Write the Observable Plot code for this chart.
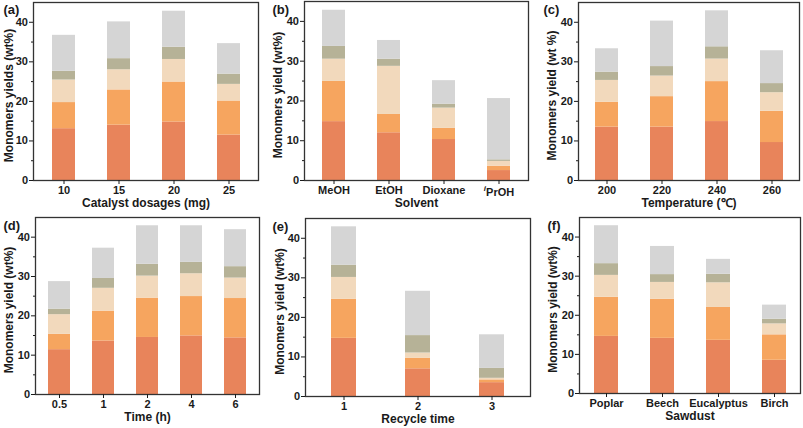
<!DOCTYPE html>
<html>
<head>
<meta charset="utf-8">
<script src="https://cdn.jsdelivr.net/npm/d3@7"></script>
<script src="https://cdn.jsdelivr.net/npm/@observablehq/plot@0.6"></script>
<style>
  html, body { margin: 0; padding: 0; background: #fff; }
  #wrap { position: relative; width: 803px; height: 428px; overflow: hidden; }
  .panel { position: absolute; }
</style>
</head>
<body>
<div id="wrap"></div>
<script>
// Component series (bottom to top of each stack)
const seriesNames = ["Component 1", "Component 2", "Component 3", "Component 4", "Component 5"];
const seriesColors = ["#E8845B", "#F6A55F", "#F2D9BC", "#B6B297", "#D5D5D5"];

// (a) Catalyst dosages
const catA = ["10", "15", "20", "25"];
const aS1 = [13.1, 14.0, 14.8, 11.5];
const aS2 = [6.6, 8.9, 10.1, 8.6];
const aS3 = [5.7, 5.1, 5.7, 4.2];
const aS4 = [2.2, 2.8, 3.1, 2.6];
const aS5 = [9.1, 9.3, 9.1, 7.7];

// (b) Solvent
const catB = ["MeOH", "EtOH", "Dioxane", "iPrOH"];
const bS1 = [14.8, 12.0, 10.3, 2.5];
const bS2 = [10.1, 4.6, 2.8, 1.1];
const bS3 = [5.6, 12.1, 5.1, 1.2];
const bS4 = [3.2, 1.8, 1.0, 0.4];
const bS5 = [9.1, 4.7, 5.9, 15.4];

// (c) Temperature
const catC = ["200", "220", "240", "260"];
const cS1 = [13.5, 13.5, 14.9, 9.6];
const cS2 = [6.3, 7.7, 10.1, 7.9];
const cS3 = [5.5, 5.2, 5.7, 4.7];
const cS4 = [2.1, 2.4, 3.1, 2.3];
const cS5 = [5.9, 11.5, 9.1, 8.3];

// (d) Time
const catD = ["0.5", "1", "2", "4", "6"];
const dS1 = [11.4, 13.6, 14.5, 14.9, 14.4];
const dS2 = [3.9, 7.6, 10.0, 10.0, 10.0];
const dS3 = [5.0, 5.8, 5.6, 5.8, 5.2];
const dS4 = [1.4, 2.5, 3.0, 2.9, 2.9];
const dS5 = [7.0, 7.7, 9.8, 9.3, 9.4];

// (e) Recycle time
const catE = ["1", "2", "3"];
const eS1 = [14.7, 7.0, 3.5];
const eS2 = [9.9, 2.7, 0.7];
const eS3 = [5.5, 1.3, 0.4];
const eS4 = [3.1, 4.4, 2.5];
const eS5 = [9.7, 11.2, 8.5];

// (f) Sawdust
const catF = ["Poplar", "Beech", "Eucalyptus", "Birch"];
const fS1 = [14.6, 14.1, 13.6, 8.5];
const fS2 = [10.0, 10.0, 8.4, 6.5];
const fS3 = [5.6, 4.3, 6.3, 2.8];
const fS4 = [3.0, 2.0, 2.2, 1.2];
const fS5 = [9.7, 7.2, 3.8, 3.6];

const majorTicks = [0, 10, 20, 30, 40];
const minorTicks = [5, 15, 25, 35];

function toLong(cats, seriesArrays) {
  const rows = [];
  seriesArrays.forEach((vals, si) => {
    cats.forEach((c, ci) => rows.push({cat: c, series: seriesNames[si], value: vals[ci]}));
  });
  return rows;
}

const panels = [
  {tag: "(a)", cats: catA, series: [aS1, aS2, aS3, aS4, aS5], xTitle: "Catalyst dosages (mg)", yTitle: "Monomers yields (wt%)",
   left: 0, top: 0, width: 268, mL: 33, mR: 10, mT: 2, mB: 34, pi: 0.59, po: 0.31, tagX: 3, tagY: 9, yT: -24},
  {tag: "(b)", cats: catB, series: [bS1, bS2, bS3, bS4, bS5], xTitle: "Solvent", yTitle: "Monomers yield (wt%)",
   left: 268, top: 0, width: 267, mL: 36, mR: 7, mT: 1, mB: 34, pi: 0.58, po: 0.3, tagX: 4, tagY: 9, yT: -26},
  {tag: "(c)", cats: catC, series: [cS1, cS2, cS3, cS4, cS5], xTitle: "Temperature (\u2103)", yTitle: "Monomers yield (wt %)",
   left: 535, top: 0, width: 268, mL: 43, mR: 4, mT: 2, mB: 34, pi: 0.59, po: 0.28, tagX: 8, tagY: 9, yT: -26},
  {tag: "(d)", cats: catD, series: [dS1, dS2, dS3, dS4, dS5], xTitle: "Time (h)", yTitle: "Monomers yield (wt%)",
   left: 0, top: 214, width: 268, mL: 35, mR: 9, mT: 3, mB: 34, pi: 0.49, po: 0.255, tagX: 3, tagY: 11, yT: -26},
  {tag: "(e)", cats: catE, series: [eS1, eS2, eS3, eS4, eS5], xTitle: "Recycle time", yTitle: "Monomers yield (wt%)",
   left: 268, top: 214, width: 267, mL: 37, mR: 5, mT: 4, mB: 32, pi: 0.657, po: 0.33, tagX: 4, tagY: 12, yT: -25},
  {tag: "(f)", cats: catF, series: [fS1, fS2, fS3, fS4, fS5], xTitle: "Sawdust", yTitle: "Monomers yield (wt%)",
   left: 535, top: 214, width: 268, mL: 44, mR: 3, mT: 3, mB: 35, pi: 0.58, po: 0.24, tagX: 12, tagY: 11, yT: -26}
];

const wrap = document.getElementById("wrap");
const height = 214;

panels.forEach(p => {
  const data = toLong(p.cats, p.series);
  const chart = Plot.plot({
    width: p.width,
    height: height,
    marginLeft: p.mL, marginRight: p.mR, marginTop: p.mT, marginBottom: p.mB,
    style: {fontFamily: "'Liberation Sans', Arial, Helvetica, sans-serif", fontSize: "11px", fontWeight: "bold", color: "#1a1a1a", background: "transparent"},
    x: {domain: p.cats, paddingInner: p.pi, paddingOuter: p.po},
    y: {domain: [0, 45]},
    color: {domain: seriesNames, range: seriesColors},
    marks: [
      Plot.barY(data, {x: "cat", y: "value", fill: "series", z: "series"}),
      Plot.frame({stroke: "#333", strokeWidth: 1.3}),
      Plot.axisY({ticks: majorTicks, tickSize: 4, tickPadding: 1.5, label: null}),
      Plot.axisY({ticks: minorTicks, tickSize: 2, tickFormat: () => "", label: null}),
      Plot.axisX({tickSize: 4, tickPadding: 2, label: null}),
      Plot.text([p.xTitle], {frameAnchor: "bottom", dy: 23, textAnchor: "middle", lineAnchor: "middle", fontSize: 12, fontWeight: "bold", fill: "#1a1a1a"}),
      Plot.text([p.yTitle], {frameAnchor: "left", dx: p.yT, dy: 4, rotate: -90, textAnchor: "middle", lineAnchor: "middle", fontSize: 12, fontWeight: "bold", fill: "#1a1a1a"}),
      Plot.text([p.tag], {frameAnchor: "top-left", dx: p.tagX - p.mL, dy: p.tagY - p.mT, textAnchor: "start", lineAnchor: "middle", fontSize: 13, fontWeight: "bold", fill: "#1a1a1a"})
    ]
  });
  // Superscript italic "i" in iPrOH
  d3.select(chart).selectAll("text").filter(function() { return this.textContent === "iPrOH"; })
    .each(function() {
      const t = d3.select(this);
      t.text(null);
      t.append("tspan").attr("font-style", "italic").attr("font-size", "8px").attr("dy", "-0.45em").text("i");
      t.append("tspan").attr("dy", "0.45em").text("PrOH");
    });
  const div = document.createElement("div");
  div.className = "panel";
  div.style.left = p.left + "px";
  div.style.top = p.top + "px";
  div.appendChild(chart);
  wrap.appendChild(div);
});
</script>
</body>
</html>
